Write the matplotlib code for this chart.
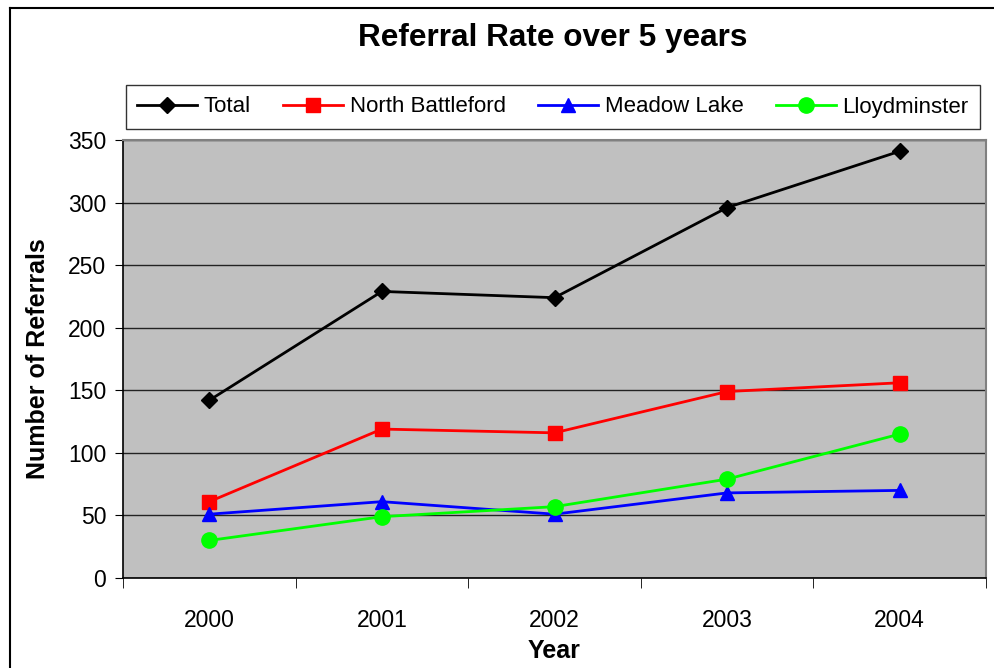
import matplotlib.pyplot as plt
from matplotlib.lines import Line2D

plt.rcParams["font.family"] = ["Liberation Sans", "DejaVu Sans"]

years = ["2000", "2001", "2002", "2003", "2004"]
total = [142, 229, 224, 296, 341]
north_battleford = [61, 119, 116, 149, 156]
meadow_lake = [51, 61, 51, 68, 70]
lloydminster = [30, 49, 57, 79, 115]

series = [
    ("Total", total, "black", "D", 8.5),
    ("North Battleford", north_battleford, "#FF0000", "s", 10.5),
    ("Meadow Lake", meadow_lake, "#0000FF", "^", 10.5),
    ("Lloydminster", lloydminster, "#00FF00", "o", 11),
]

fig = plt.figure(figsize=(9.94, 6.68), dpi=100)
ax = fig.add_axes([123 / 994, 1 - 578 / 668, 863 / 994, 438 / 668])
ax.set_facecolor("#C0C0C0")

x = list(range(len(years)))
handles = []
for name, vals, col, mk, ms in series:
    (h,) = ax.plot(x, vals, color=col, marker=mk, markersize=ms, linewidth=2,
                   markeredgecolor=col, label=name, zorder=3)
    handles.append(h)

ax.set_xlim(-0.5, len(years) - 0.5)
ax.set_ylim(0, 350)
ax.set_yticks(range(0, 351, 50))
ax.yaxis.grid(True, color="#222222", linewidth=1)
ax.set_axisbelow(True)

ax.set_xticks(x)
ax.set_xticklabels(years)
ax.set_xticks([i - 0.5 for i in range(len(years) + 1)], minor=True)
ax.tick_params(axis="x", which="major", length=0, pad=22, labelsize=16.5)
ax.tick_params(axis="x", which="minor", length=7, direction="out", color="black")
ax.tick_params(axis="y", length=6, direction="out", labelsize=16.5, pad=6)

for s in ["left", "bottom"]:
    ax.spines[s].set_color("black")
    ax.spines[s].set_linewidth(1.2)
for s in ["top", "right"]:
    ax.spines[s].set_color("#808080")
    ax.spines[s].set_linewidth(1.5)

ax.set_xlabel("Year", fontsize=18, fontweight="bold", labelpad=5)
ax.set_ylabel("Number of Referrals", fontsize=18, fontweight="bold", labelpad=13)

fig.text(553 / 994, 1 - 38 / 668, "Referral Rate over 5 years", fontsize=22.7,
         fontweight="bold", ha="center", va="center")

leg = fig.legend(handles=handles, loc="center", bbox_to_anchor=(553 / 994, 1 - 107 / 668),
                 ncol=4, fontsize=16, frameon=True, fancybox=False, edgecolor="black",
                 borderpad=0.5, columnspacing=1.45, handlelength=2.7, handletextpad=0.3)
leg.get_frame().set_linewidth(1)

# outer chart border
fig.add_artist(Line2D([10 / 994, 10 / 994], [0, 1 - 8 / 668], transform=fig.transFigure,
                      color="black", linewidth=1.5))
fig.add_artist(Line2D([10 / 994, 1], [1 - 8 / 668, 1 - 8 / 668], transform=fig.transFigure,
                      color="black", linewidth=1.5))

plt.savefig("out.png", dpi=100)
